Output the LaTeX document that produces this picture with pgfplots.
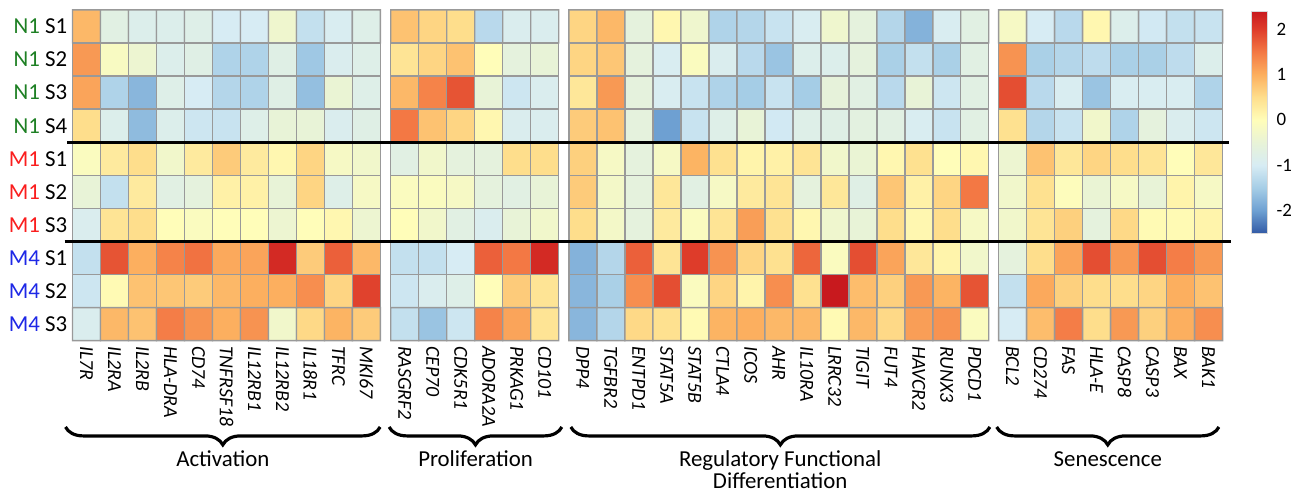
\documentclass[border=0pt]{standalone}
\usepackage{pgfplots}
\pgfplotsset{compat=1.18}
\usepackage{pgfplotstable}
\usepackage{fontspec}
\setmainfont{Carlito}
\usetikzlibrary{decorations.pathreplacing}
\definecolor{nOne}{RGB}{30,128,36}
\definecolor{mOne}{RGB}{250,30,30}
\definecolor{mFour}{RGB}{30,40,230}

% Activation: 11 genes per row, rows N1S1..M4S3
\pgfplotstableread[row sep=\\]{c\\
0.9\\ -0.7\\ -0.85\\ -0.85\\ -0.8\\ -1.0\\ -1.0\\ -0.35\\ -1.2\\ -0.95\\ -0.8\\
1.2\\ -0.15\\ -0.4\\ -0.85\\ -0.75\\ -1.4\\ -1.4\\ -0.75\\ -1.55\\ -0.9\\ -0.8\\
1.1\\ -1.4\\ -1.75\\ -0.8\\ -1.0\\ -1.35\\ -1.4\\ -0.75\\ -1.65\\ -0.45\\ -0.8\\
0.5\\ -0.85\\ -1.7\\ -0.85\\ -1.1\\ -1.15\\ -0.8\\ -0.5\\ -0.5\\ -0.9\\ -0.75\\
-0.1\\ 0.3\\ 0.5\\ -0.3\\ 0.3\\ 0.7\\ 0.3\\ 0.1\\ 0.6\\ -0.2\\ -0.3\\
-0.5\\ -1.2\\ 0.3\\ -0.7\\ -0.6\\ 0.2\\ 0.2\\ -0.5\\ 0.6\\ -0.8\\ -0.2\\
-0.9\\ 0.4\\ 0.5\\ 0.0\\ -0.1\\ 0.0\\ 0.0\\ -0.4\\ 0.0\\ 0.1\\ -0.4\\
-1.2\\ 1.8\\ 1.0\\ 1.4\\ 1.55\\ 1.05\\ 1.1\\ 2.2\\ 0.7\\ 1.7\\ 0.9\\
-1.1\\ 0.05\\ 0.8\\ 0.75\\ 0.7\\ 0.9\\ 1.0\\ 1.0\\ 1.3\\ 0.6\\ 1.95\\
-0.9\\ 0.9\\ 0.8\\ 1.45\\ 1.25\\ 1.0\\ 1.25\\ -0.3\\ 0.55\\ 0.95\\ 0.7\\
}\tabAct

% Proliferation: 6 genes per row
\pgfplotstableread[row sep=\\]{c\\
0.8\\ 0.6\\ 0.5\\ -1.3\\ -0.9\\ -0.9\\
0.4\\ 0.6\\ 0.8\\ 0.0\\ -0.6\\ -0.5\\
0.9\\ 1.4\\ 1.8\\ -0.5\\ -1.1\\ -0.9\\
1.5\\ 0.8\\ 0.6\\ 0.1\\ -0.9\\ -0.9\\
-0.7\\ -0.3\\ -0.6\\ -0.6\\ 0.5\\ 0.5\\
-0.1\\ -0.1\\ -0.2\\ -0.6\\ -0.7\\ -0.5\\
0.0\\ -0.3\\ -0.7\\ -0.9\\ -0.5\\ -0.3\\
-1.2\\ -1.2\\ -1.0\\ 1.7\\ 1.5\\ 2.2\\
-1.1\\ -0.9\\ -0.8\\ 0.0\\ 0.7\\ 0.4\\
-1.2\\ -1.6\\ -1.1\\ 1.4\\ 1.1\\ 0.4\\
}\tabPro

% Regulatory functional differentiation: 15 genes per row
\pgfplotstableread[row sep=\\]{c\\
0.6\\ 0.9\\ -0.6\\ 0.1\\ -0.35\\ -1.4\\ -1.35\\ -1.15\\ -0.95\\ -0.35\\ -0.6\\ -1.35\\ -1.8\\ -0.95\\ -0.7\\
0.6\\ 0.75\\ -0.6\\ -0.95\\ -0.1\\ -0.9\\ -1.3\\ -1.6\\ -0.85\\ -0.85\\ -0.6\\ -1.45\\ -1.2\\ -1.45\\ -0.7\\
0.35\\ 1.2\\ -0.6\\ -0.95\\ -1.15\\ -1.4\\ -1.5\\ -1.15\\ -1.5\\ -0.55\\ -0.7\\ -1.3\\ -0.5\\ -1.1\\ -0.7\\
0.7\\ 0.8\\ -0.6\\ -2.0\\ -1.15\\ -0.8\\ -0.5\\ -1.05\\ -0.8\\ -0.75\\ -0.65\\ -0.7\\ -0.95\\ -1.15\\ -0.7\\
0.65\\ -0.2\\ -0.6\\ -0.2\\ 0.95\\ 0.45\\ 0.15\\ 0.2\\ 0.4\\ -0.3\\ -0.45\\ 0.1\\ 0.45\\ 0.0\\ 0.1\\
0.7\\ -0.25\\ -0.6\\ 0.35\\ -0.7\\ -0.2\\ 0.3\\ 0.4\\ -0.6\\ 0.35\\ -0.75\\ 0.75\\ 0.2\\ 0.6\\ 1.5\\
0.5\\ -0.25\\ -0.6\\ 0.3\\ -0.1\\ 0.4\\ 1.15\\ 0.45\\ 0.1\\ -0.35\\ -0.5\\ 0.5\\ 0.1\\ 0.5\\ -0.2\\
-1.8\\ -1.35\\ 1.7\\ 0.4\\ 2.0\\ 1.25\\ 0.6\\ 0.45\\ 1.65\\ -0.1\\ 1.85\\ 1.1\\ 0.35\\ 0.15\\ -0.3\\
-1.75\\ -1.45\\ 1.3\\ 1.85\\ -0.1\\ 0.6\\ 0.15\\ 1.3\\ 0.45\\ 2.4\\ 0.85\\ 0.65\\ 1.2\\ 0.95\\ 1.8\\
-1.75\\ -1.35\\ 0.55\\ 0.45\\ 0.05\\ 0.95\\ 1.0\\ 0.9\\ 0.9\\ 0.05\\ 0.9\\ 0.55\\ 1.15\\ 1.25\\ -0.1\\
}\tabReg

% Senescence: 8 genes per row
\pgfplotstableread[row sep=\\]{c\\
-0.2\\ -1.0\\ -1.3\\ 0.1\\ -0.85\\ -1.05\\ -1.2\\ -1.15\\
1.25\\ -1.45\\ -1.35\\ -1.25\\ -1.45\\ -1.45\\ -1.25\\ -0.85\\
1.85\\ -1.3\\ -0.95\\ -1.6\\ -0.95\\ -0.95\\ -0.95\\ -1.4\\
0.45\\ -1.35\\ -1.15\\ -0.3\\ -1.4\\ -0.6\\ -0.9\\ -1.1\\
-0.4\\ 0.8\\ 0.35\\ 0.6\\ 0.5\\ 0.4\\ 0.0\\ 0.35\\
-0.3\\ 0.45\\ -0.05\\ -0.45\\ -0.2\\ -0.5\\ 0.15\\ -0.2\\
-0.3\\ 0.4\\ 0.65\\ -0.6\\ 0.55\\ 0.05\\ 0.05\\ 0.15\\
-0.6\\ 0.5\\ 1.1\\ 1.85\\ 1.2\\ 1.85\\ 1.45\\ 1.2\\
-1.2\\ 1.05\\ 0.65\\ 0.5\\ 0.5\\ 0.6\\ 1.0\\ 0.8\\
-1.0\\ 0.85\\ 1.45\\ 0.5\\ 1.2\\ 0.65\\ 1.0\\ 1.3\\
}\tabSen

\begin{document}
\begin{tikzpicture}
\begin{axis}[
  scale only axis, width=579pt, height=166.5pt,
  xmin=-0.5, xmax=40.58, ymin=-0.5, ymax=9.5, y dir=reverse,
  clip=false,
  axis line style={draw=none}, major tick length=0pt,
  colormap={rdylbu}{rgb255(0pt)=(50,90,165); rgb255(5pt)=(110,160,210); rgb255(10pt)=(165,205,230); rgb255(15pt)=(215,236,244); rgb255(20pt)=(232,243,215); rgb255(25pt)=(255,253,185); rgb255(30pt)=(254,222,140); rgb255(35pt)=(252,175,95); rgb255(40pt)=(243,120,68); rgb255(45pt)=(222,60,42); rgb255(49pt)=(200,25,30)},
  point meta min=-2.5, point meta max=2.4,
  colorbar,
  colorbar style={at={(parent axis.north east)}, anchor=north west, xshift=6pt, yshift=-0.5pt,
    width=8pt, height=112pt, ytick={-2,-1,0,1,2}, yticklabels={-2,-1,0,1,2},
    yticklabel style={font=\fontsize{9.5}{10}\selectfont, inner sep=0pt, xshift=4.5pt},
    major tick length=0pt, axis line style={draw=black!15}},
  xtick={0,1,2,3,4,5,6,7,8,9,10,11.37,12.37,13.37,14.37,15.37,16.37,17.73,18.73,19.73,20.73,21.73,22.73,23.73,24.73,25.73,26.73,27.73,28.73,29.73,30.73,31.73,33.08,34.08,35.08,36.08,37.08,38.08,39.08,40.08},
  xticklabels={IL7R,IL2RA,IL2RB,HLA-DRA,CD74,TNFRSF18,IL12RB1,IL12RB2,IL18R1,TFRC,MKI67,RASGRF2,CEP70,CDK5R1,ADORA2A,PRKAG1,CD101,DPP4,TGFBR2,ENTPD1,STAT5A,STAT5B,CTLA4,ICOS,AHR,IL10RA,LRRC32,TIGIT,FUT4,HAVCR2,RUNX3,PDCD1,BCL2,CD274,FAS,HLA-E,CASP8,CASP3,BAX,BAK1},
  xticklabel style={rotate=-90, anchor=west, font=\itshape\fontsize{10}{11}\selectfont, inner sep=2.5pt},
  ytick={0,...,9},
  yticklabels={{\textcolor{nOne}{N1} S1},{\textcolor{nOne}{N1} S2},{\textcolor{nOne}{N1} S3},{\textcolor{nOne}{N1} S4},{\textcolor{mOne}{M1} S1},{\textcolor{mOne}{M1} S2},{\textcolor{mOne}{M1} S3},{\textcolor{mFour}{M4} S1},{\textcolor{mFour}{M4} S2},{\textcolor{mFour}{M4} S3}},
  yticklabel style={font=\fontsize{11.5}{12}\selectfont, inner sep=2.5pt},
]
\addplot[matrix plot*, mesh/cols=11, mesh/rows=10, point meta=explicit, draw=black!40, line width=0.7pt]
  table[x index=0, y index=0, meta index=0, x expr={mod(\coordindex,11)}, y expr={floor((\coordindex+0.5)/11)}] {\tabAct};
\addplot[matrix plot*, mesh/cols=6, mesh/rows=10, point meta=explicit, draw=black!40, line width=0.7pt]
  table[x index=0, y index=0, meta index=0, x expr={mod(\coordindex,6)+11.37}, y expr={floor((\coordindex+0.5)/6)}] {\tabPro};
\addplot[matrix plot*, mesh/cols=15, mesh/rows=10, point meta=explicit, draw=black!40, line width=0.7pt]
  table[x index=0, y index=0, meta index=0, x expr={mod(\coordindex,15)+17.73}, y expr={floor((\coordindex+0.5)/15)}] {\tabReg};
\addplot[matrix plot*, mesh/cols=8, mesh/rows=10, point meta=explicit, draw=black!40, line width=0.7pt]
  table[x index=0, y index=0, meta index=0, x expr={mod(\coordindex,8)+33.08}, y expr={floor((\coordindex+0.5)/8)}] {\tabSen};

% separators
\draw[line width=1.6pt] (axis cs:-0.68,3.5) -- (axis cs:40.81,3.5);
\draw[line width=1.6pt] (axis cs:-0.78,6.5) -- (axis cs:40.88,6.5);

% braces
\draw[decorate, decoration={brace, mirror, amplitude=9pt}, line width=1.6pt] (axis cs:-0.75,12.11) -- (axis cs:10.49,12.11);
\draw[decorate, decoration={brace, mirror, amplitude=9pt}, line width=1.6pt] (axis cs:10.81,12.11) -- (axis cs:16.98,12.11);
\draw[decorate, decoration={brace, mirror, amplitude=9pt}, line width=1.6pt] (axis cs:17.30,12.11) -- (axis cs:32.27,12.11);
\draw[decorate, decoration={brace, mirror, amplitude=9pt}, line width=1.6pt] (axis cs:32.51,12.11) -- (axis cs:40.45,12.11);

\node[font=\fontsize{11.5}{12}\selectfont] at (axis cs:4.87,13.07) {Activation};
\node[font=\fontsize{11.5}{12}\selectfont] at (axis cs:13.9,13.07) {Proliferation};
\node[font=\fontsize{11.5}{11.5}\selectfont, align=center] at (axis cs:24.78,13.40) {Regulatory Functional\\Differentiation};
\node[font=\fontsize{11.5}{12}\selectfont] at (axis cs:36.48,13.07) {Senescence};

\path (axis cs:-3.089,-0.8) rectangle (axis cs:42.73,14.12);
\end{axis}
\end{tikzpicture}
\end{document}
